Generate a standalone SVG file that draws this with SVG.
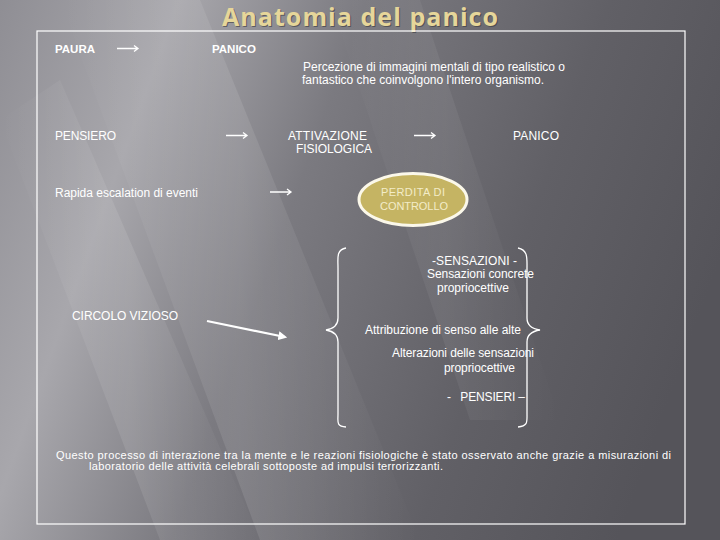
<svg xmlns="http://www.w3.org/2000/svg" width="720" height="540" viewBox="0 0 720 540">
<defs>
<linearGradient id="bg" x1="0" y1="0" x2="720" y2="260" gradientUnits="userSpaceOnUse">
<stop offset="0" stop-color="#8f8e94"/>
<stop offset="0.22" stop-color="#a8a7ac"/>
<stop offset="0.45" stop-color="#7b7a80"/>
<stop offset="0.75" stop-color="#616066"/>
<stop offset="1" stop-color="#55545a"/>
</linearGradient>
<linearGradient id="streak" x1="0" y1="0" x2="1" y2="0">
<stop offset="0" stop-color="#ffffff" stop-opacity="0"/>
<stop offset="0.5" stop-color="#ffffff" stop-opacity="0.1"/>
<stop offset="1" stop-color="#ffffff" stop-opacity="0"/>
</linearGradient>
<marker id="ah" markerWidth="4" markerHeight="4" refX="3" refY="2" orient="auto" markerUnits="strokeWidth">
<path d="M0,0 L4,2 L0,4 Z" fill="#ffffff"/>
</marker>
<style>
.t{font-family:"Liberation Sans",Arial,sans-serif;font-size:12px;fill:#ffffff}
.b{font-weight:bold;font-size:11.5px}
.sm{font-size:11px}
.s{font-size:11px;fill:#f3ecc8}
.arr{fill:none;stroke:#ffffff;stroke-width:1.3}
.brace{fill:none;stroke:#ffffff;stroke-width:1.3}
</style>
</defs>
<rect width="720" height="540" fill="url(#bg)"/>
<g id="streaks">
<polygon points="60,0 200,0 420,540 260,540" fill="url(#streak)"/>
<polygon points="0,120 60,80 260,540 160,540" fill="url(#streak)"/>
<polygon points="330,0 420,0 560,420 470,420" fill="url(#streak)" opacity="0.6"/>
</g>
<g id="title">
<text x="361" y="27" text-anchor="middle" font-family="'Open Sans',sans-serif" font-weight="700" font-size="25" fill="#3a3a3e" opacity="0.6" textLength="276">Anatomia del panico</text>
<text x="360" y="26" text-anchor="middle" font-family="'Open Sans',sans-serif" font-weight="700" font-size="25" fill="#e6d69a" textLength="276">Anatomia del panico</text>
</g>
<rect id="frame" x="37" y="31" width="648" height="493" fill="none" stroke="#ffffff" stroke-width="1.2"/>
<g id="n-paura"><text class="t b" x="55" y="53">PAURA</text></g>
<g id="n-panico1"><text class="t b" x="212" y="53">PANICO</text></g>
<g id="n-percezione">
<text class="t" x="303" y="71" textLength="262">Percezione di immagini mentali di tipo realistico o</text>
<text class="t" x="302" y="84" textLength="242">fantastico che coinvolgono l'intero organismo.</text>
</g>
<g id="n-pensiero"><text class="t" x="55" y="140" textLength="61">PENSIERO</text></g>
<g id="n-attivazione">
<text class="t" x="288" y="140" textLength="79">ATTIVAZIONE</text>
<text class="t" x="296" y="153" textLength="76">FISIOLOGICA</text>
</g>
<g id="n-panico2"><text class="t" x="513" y="140" textLength="46">PANICO</text></g>
<g id="n-rapida"><text class="t" x="55" y="197" textLength="143">Rapida escalation di eventi</text></g>
<g id="n-perdita">
<ellipse cx="413" cy="199.5" rx="54" ry="26" fill="#c5b463" stroke="#fbf8ea" stroke-width="3"/>
<text class="t s" x="413" y="196" text-anchor="middle" textLength="64">PERDITA DI</text>
<text class="t s" x="414" y="210" text-anchor="middle" textLength="68">CONTROLLO</text>
</g>
<g id="n-sensazioni">
<text class="t" x="432" y="265" textLength="85">-SENSAZIONI -</text>
<text class="t" x="427" y="278" textLength="107">Sensazioni concrete</text>
<text class="t" x="437" y="292" textLength="72">propriocettive</text>
</g>
<g id="n-circolo"><text class="t" x="72" y="320" textLength="106">CIRCOLO VIZIOSO</text></g>
<g id="n-attribuzione"><text class="t" x="365" y="334" textLength="156">Attribuzione di senso alle alte</text></g>
<g id="n-alterazioni">
<text class="t" x="392" y="357" textLength="142">Alterazioni delle sensazioni</text>
<text class="t" x="444" y="372" textLength="71">propriocettive</text>
</g>
<g id="n-pensieri"><text class="t" xml:space="preserve" x="447" y="401" textLength="78">-   PENSIERI –</text></g>
<g id="n-questo">
<text class="t sm" x="56" y="459" textLength="615">Questo processo di interazione tra la mente e le reazioni fisiologiche è stato osservato anche grazie a misurazioni di</text>
<text class="t sm" x="89" y="470" textLength="354">laboratorio delle attività celebrali sottoposte ad impulsi terrorizzanti.</text>
</g>
<g id="connectors">
<path class="arr" d="M117,48.5 h21 M134,45.5 L138,48.5 L134,51.5"/>
<path class="arr" d="M226,135.5 h21 M243,132.5 L247,135.5 L243,138.5"/>
<path class="arr" d="M414,135.5 h21 M431,132.5 L435,135.5 L431,138.5"/>
<path class="arr" d="M270,192 h21 M287,189 L291,192 L287,195"/>
<line x1="207" y1="321" x2="285" y2="337" stroke="#ffffff" stroke-width="2.2" marker-end="url(#ah)"/>
<path class="brace" d="M346,248 C336,250 338,258 338,268 L338,318 C338,326 332,329 326,330 C332,331 338,334 338,342 L338,414 C338,422 336,426 346,427"/>
<path class="brace" d="M518,248 C528,250 527,258 527,268 L527,318 C527,326 533,329 540,330 C533,331 527,334 527,342 L527,414 C527,422 528,426 518,427"/>
</g>
</svg>
